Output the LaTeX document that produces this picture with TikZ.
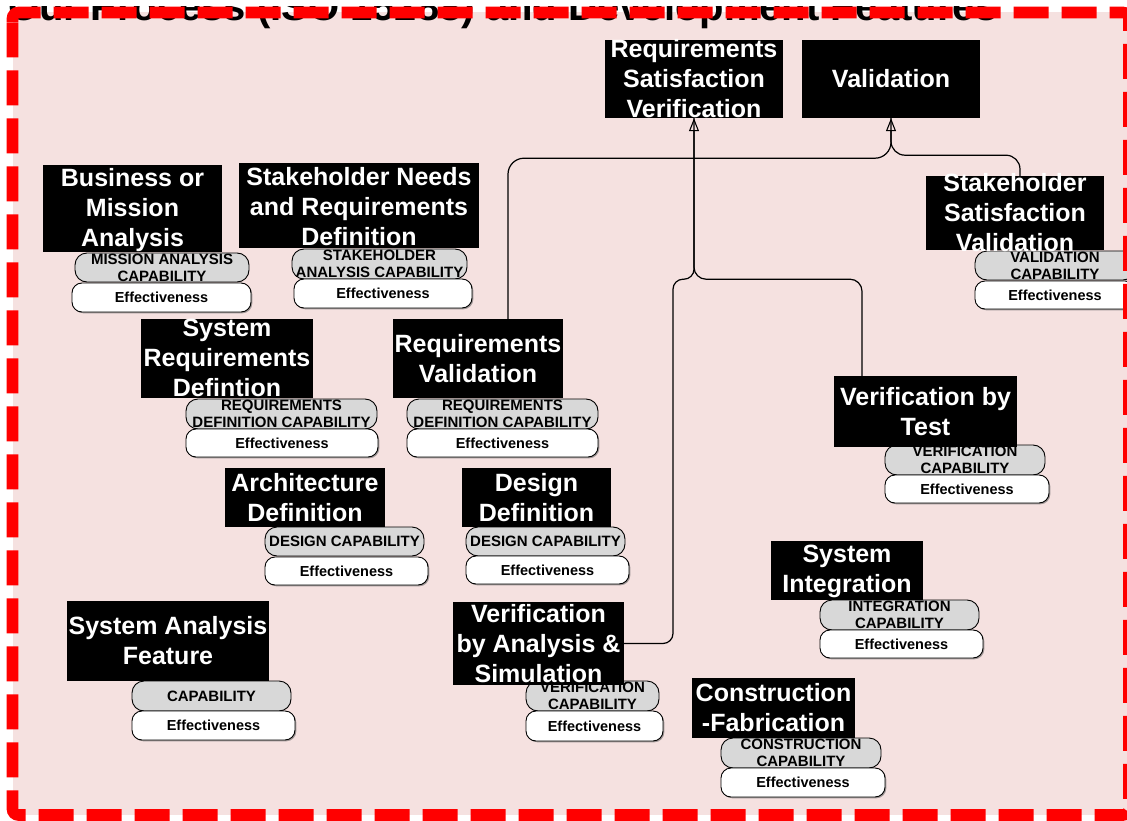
\documentclass[tikz,border=0pt]{standalone}
\usepackage{fontspec}
\setmainfont{Liberation Sans}
\usetikzlibrary{arrows.meta,calc,shadows}
\definecolor{panelpink}{RGB}{245,225,224}
\definecolor{capgray}{RGB}{216,216,216}
\definecolor{framered}{RGB}{255,0,0}
\begin{document}
\begin{tikzpicture}[x=1pt,y=-1pt,
  titlebox/.style={fill=black, draw=none, inner sep=0pt},
  titletext/.style={text=white, align=center, inner sep=0pt, font=\bfseries\fontsize{25}{30}\selectfont},
  cappill/.style={fill=capgray, draw=black, line width=0.9pt, rounded corners=12pt, inner sep=0pt, align=center, font=\bfseries\fontsize{15}{17}\selectfont},
  effpill/.style={fill=white, draw=black, line width=0.9pt, rounded corners=10pt, inner sep=0pt, font=\bfseries\fontsize{14.5}{17}\selectfont, drop shadow={shadow xshift=1.3pt, shadow yshift=-1.3pt, fill=black!60, opacity=0.6}},
  link/.style={draw=black, line width=1.2pt},
  tip/.style={-{Triangle[open, length=13pt, width=10pt, line width=1.1pt]}},
]
\useasboundingbox (0,0) rectangle (1127,821);

% panel background
\fill[panelpink] (12.5,12.5) rectangle (1129,815);

% heading, mostly hidden under the frame
\begin{scope}
  \clip (0,7) rectangle (1127,821);
  \node[anchor=base west, inner sep=0pt, font=\bfseries\fontsize{40}{44}\selectfont] (heading) at (8,21)
    {Our Process (ISO 15288) and Development Features};
\end{scope}

% capability and effectiveness pills
\node[cappill, minimum width=174pt, minimum height=29pt] (bmacap) at (162,267.5) {MISSION ANALYSIS\\CAPABILITY};
\node[effpill, minimum width=179pt, minimum height=29pt] (bmaeff) at (161.5,297.5) {Effectiveness};

\node[cappill, minimum width=175pt, minimum height=30pt] (snrcap) at (379.5,264) {STAKEHOLDER\\ANALYSIS CAPABILITY};
\node[effpill, minimum width=178pt, minimum height=29pt] (snreff) at (383,293.5) {Effectiveness};

\node[cappill, minimum width=160pt, minimum height=29pt] (ssvcap) at (1055,265.5) {VALIDATION\\CAPABILITY};
\node[effpill, minimum width=160pt, minimum height=28pt] (ssveff) at (1055,295) {Effectiveness};

\node[cappill, minimum width=191pt, minimum height=30pt] (srdcap) at (281.5,414) {REQUIREMENTS\\DEFINITION CAPABILITY};
\node[effpill, minimum width=192pt, minimum height=28pt] (srdeff) at (282,443) {Effectiveness};

\node[cappill, minimum width=191pt, minimum height=30pt] (rvcap) at (502.5,414) {REQUIREMENTS\\DEFINITION CAPABILITY};
\node[effpill, minimum width=191pt, minimum height=28pt] (rveff) at (502.5,443) {Effectiveness};

\node[cappill, minimum width=160pt, minimum height=30pt] (vbtcap) at (965,460) {VERIFICATION\\CAPABILITY};
\node[effpill, minimum width=164pt, minimum height=28pt] (vbteff) at (967,489) {Effectiveness};

\node[cappill, minimum width=159pt, minimum height=29pt] (adcap) at (344.5,541.5) {DESIGN CAPABILITY};
\node[effpill, minimum width=163pt, minimum height=28pt] (adeff) at (346.5,571) {Effectiveness};

\node[cappill, minimum width=159pt, minimum height=29pt] (ddcap) at (545.5,541.5) {DESIGN CAPABILITY};
\node[effpill, minimum width=163pt, minimum height=28pt] (ddeff) at (547.5,570) {Effectiveness};

\node[cappill, minimum width=159pt, minimum height=30pt] (sicap) at (899.5,615) {INTEGRATION\\CAPABILITY};
\node[effpill, minimum width=163pt, minimum height=28pt] (sieff) at (901.5,644) {Effectiveness};

\node[cappill, minimum width=159pt, minimum height=30pt] (safcap) at (211.5,696) {CAPABILITY};
\node[effpill, minimum width=163pt, minimum height=29pt] (safeff) at (213.5,725.5) {Effectiveness};

\node[cappill, minimum width=133pt, minimum height=30pt] (vascap) at (592.5,696) {VERIFICATION\\CAPABILITY};
\node[effpill, minimum width=137pt, minimum height=30pt] (vaseff) at (594.5,726) {Effectiveness};

\node[cappill, minimum width=160pt, minimum height=30pt] (cfcap) at (801,753) {CONSTRUCTION\\CAPABILITY};
\node[effpill, minimum width=164pt, minimum height=29pt] (cfeff) at (803,782.5) {Effectiveness};

% process boxes
\node[titlebox, minimum width=178pt, minimum height=78pt] (rsv) at (694,79) {};
\node[titletext] at (rsv) {Requirements\\Satisfaction\\Verification};

\node[titlebox, minimum width=178pt, minimum height=78pt] (val) at (891,79) {};
\node[titletext] at (val) {Validation};

\node[titlebox, minimum width=179pt, minimum height=87pt] (bma) at (132.5,208.5) {};
\node[titletext] at ([yshift=-1.5pt]bma.center) {Business or\\Mission\\Analysis};

\node[titlebox, minimum width=240pt, minimum height=85pt] (snr) at (359,205.5) {};
\node[titletext] at ([yshift=-1pt]snr.center) {Stakeholder Needs\\and Requirements\\Definition};

\node[titlebox, minimum width=178pt, minimum height=74pt] (ssv) at (1015,213) {};
\node[titletext] at (ssv) {Stakeholder\\Satisfaction\\Validation};

\node[titlebox, minimum width=172pt, minimum height=79pt] (srd) at (227,358.5) {};
\node[titletext] at ([yshift=1pt]srd.center) {System\\Requirements\\Defintion};

\node[titlebox, minimum width=170pt, minimum height=79pt] (rv) at (478,358.5) {};
\node[titletext] at (rv) {Requirements\\Validation};

\node[titlebox, minimum width=183pt, minimum height=71pt] (vbt) at (925.5,411.5) {};
\node[titletext] at (vbt) {Verification by\\Test};

\node[titlebox, minimum width=160pt, minimum height=59pt] (ad) at (305,497.5) {};
\node[titletext] at (ad) {Architecture\\Definition};

\node[titlebox, minimum width=149pt, minimum height=59pt] (dd) at (536.5,497.5) {};
\node[titletext] at (dd) {Design\\Definition};

\node[titlebox, minimum width=152pt, minimum height=59pt] (si) at (847,570.5) {};
\node[titletext] at ([yshift=-1pt]si.center) {System\\Integration};

\node[titlebox, minimum width=202pt, minimum height=80pt] (saf) at (168,641) {};
\node[titletext] at (saf) {System Analysis\\Feature};

\node[titlebox, minimum width=171pt, minimum height=83pt] (vas) at (538.5,643.5) {};
\node[titletext] at (vas) {Verification\\by Analysis \&\\Simulation};

\node[titlebox, minimum width=163pt, minimum height=60pt] (cf) at (773.5,708) {};
\node[titletext] at (cf) {Construction\\-Fabrication};

% connectors
\draw[link, tip, rounded corners=16pt] ([xshift=30pt]rv.north) |- ($(val.south)+(0,40)$) -- (val.south);
\draw[link, rounded corners=14pt] ([xshift=5pt]ssv.north) |- ($(val.south)+(0,37)$) -- (val.south);
\draw[link, tip, rounded corners=10pt] (vas.east) -| ($(rsv.south)+(-21,161)$) -| (rsv.south);
\draw[link, rounded corners=12pt] ([xshift=-63.5pt]vbt.north) |- ($(rsv.south)+(0,161)$) -- (rsv.south);

% dashed frame
\draw[framered, line width=11.6pt, dash pattern=on 35pt off 13pt, rounded corners=6pt]
  (12.5,28) -- (12.5,12.5) -- (1129,12.5) -- (1129,815) -- (12.5,815) -- cycle;
\end{tikzpicture}
\end{document}
